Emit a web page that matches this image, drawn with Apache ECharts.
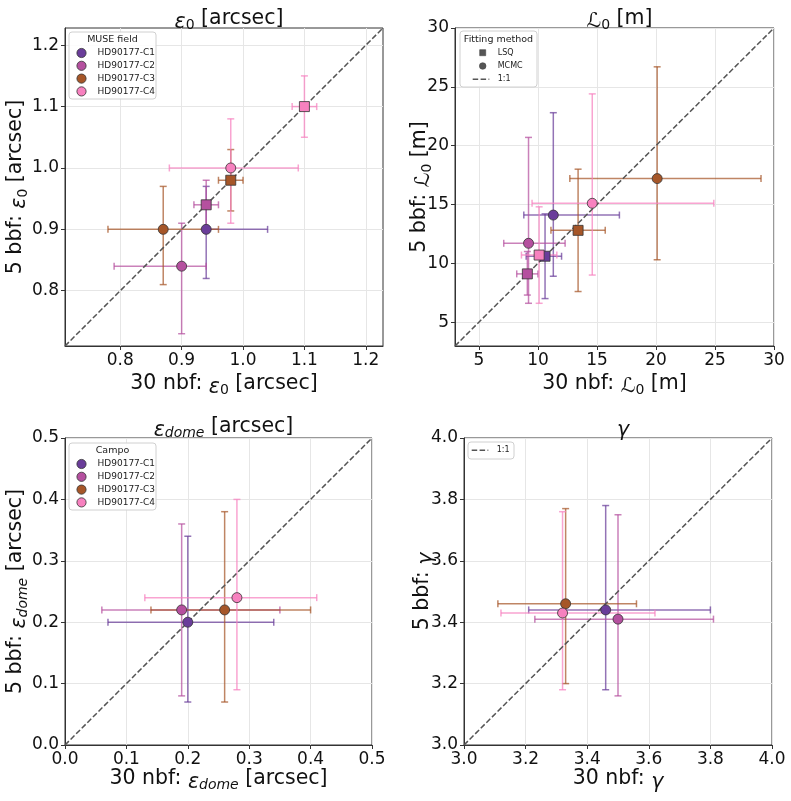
<!DOCTYPE html>
<html><head><meta charset="utf-8">
<script src="https://cdn.jsdelivr.net/npm/echarts@6/dist/echarts.min.js"></script>
<style>html,body{margin:0;padding:0;background:#fff}#c{width:791px;height:801px}</style>
</head><body><div id="c"></div>
<script>
// ---------- DATA ----------
const fields = ['HD90177-C1', 'HD90177-C2', 'HD90177-C3', 'HD90177-C4'];
const fieldColors = ['#6a3d9a', '#b5509f', '#a65628', '#f781bf'];
const methods = ['LSQ', 'MCMC'];
// rows per field: [x, xLow, xHigh, y, yLow, yHigh]  (null = not shown)
const eps0MCMC = [
  [0.94, 0.94, 1.04, 0.90, 0.82, 0.97],
  [0.90, 0.79, 0.94, 0.84, 0.73, 0.91],
  [0.87, 0.78, 0.96, 0.90, 0.81, 0.97],
  [0.98, 0.88, 1.09, 1.00, 0.91, 1.08]
];
const eps0LSQ = [
  null,
  [0.94, 0.92, 0.96, 0.94, 0.90, 0.98],
  [0.98, 0.96, 1.00, 0.98, 0.93, 1.03],
  [1.10, 1.08, 1.12, 1.10, 1.05, 1.15]
];
const L0MCMC = [
  [11.3, 8.8, 16.9, 14.1, 8.9, 22.8],
  [9.2, 7.1, 12.3, 11.7, 6.6, 20.7],
  [20.1, 12.7, 28.9, 17.2, 10.3, 26.7],
  [14.6, 9.5, 24.9, 15.1, 9.0, 24.4]
];
const L0LSQ = [
  [10.6, 9.0, 12.0, 10.6, 7.0, 14.2],
  [9.1, 8.2, 10.0, 9.1, 7.3, 11.0],
  [13.4, 11.1, 15.7, 12.8, 7.6, 18.0],
  [10.1, 8.6, 11.6, 10.7, 6.6, 14.8]
];
const domeMCMC = [
  [0.20, 0.07, 0.34, 0.20, 0.07, 0.34],
  [0.19, 0.06, 0.35, 0.22, 0.08, 0.36],
  [0.26, 0.14, 0.40, 0.22, 0.07, 0.38],
  [0.28, 0.13, 0.41, 0.24, 0.09, 0.40]
];
const gammaMCMC = [
  [3.46, 3.21, 3.80, 3.44, 3.18, 3.78],
  [3.50, 3.23, 3.81, 3.41, 3.16, 3.75],
  [3.33, 3.11, 3.56, 3.46, 3.20, 3.77],
  [3.32, 3.12, 3.62, 3.43, 3.18, 3.76]
];
// axis ranges and ticks
const eps0Range = [0.71, 1.228];
const eps0Ticks = [0.8, 0.9, 1.0, 1.1, 1.2];
const L0Range = [2.97, 30];
const L0Ticks = [5, 10, 15, 20, 25, 30];
const domeRange = [0, 0.5];
const domeTicks = [0, 0.1, 0.2, 0.3, 0.4, 0.5];
const gammaRange = [3, 4];
const gammaTicks = [3.0, 3.2, 3.4, 3.6, 3.8, 4.0];
// texts
const titles = ['{i|ε}{s|0} [arcsec]', '{n|ℒ}{s|0} [m]', '{i|ε}{si|dome} [arcsec]', '{i|γ}'];
const xNames = ['30 nbf: {i|ε}{s|0} [arcsec]', '30 nbf: {n|ℒ}{s|0} [m]', '30 nbf: {i|ε}{si|dome} [arcsec]', '30 nbf: {i|γ}'];
const yNames = ['5 bbf: {i|ε}{s|0} [arcsec]', '5 bbf: {n|ℒ}{s|0} [m]', '5 bbf: {i|ε}{si|dome} [arcsec]', '5 bbf: {i|γ}'];
const legendTitles = ['MUSE field', 'Fitting method', 'Campo'];
const diagName = '1:1';

// ---------- BUILD ----------
const FF = 'DejaVu Sans';
function rgba(hex, a) {
  const n = parseInt(hex.slice(1), 16);
  return 'rgba(' + (n >> 16 & 255) + ',' + (n >> 8 & 255) + ',' + (n & 255) + ',' + a + ')';
}
function rich(size) {
  const sub = Math.round(size * 0.7);
  return {
    i: {fontStyle: 'italic', fontSize: size, fontFamily: FF, lineHeight: size + 8, verticalAlign: 'bottom', color: '#111'},
    n: {fontSize: size, fontFamily: FF, lineHeight: size + 8, verticalAlign: 'bottom', color: '#111'},
    s: {fontSize: sub, fontFamily: FF, lineHeight: sub, verticalAlign: 'bottom', color: '#111'},
    si: {fontSize: sub, fontStyle: 'italic', fontFamily: FF, lineHeight: sub, verticalAlign: 'bottom', color: '#111'}
  };
}
const grids = [
  {left: 65, top: 28, width: 318, height: 318},
  {left: 455, top: 28, width: 319, height: 318},
  {left: 65, top: 438, width: 307, height: 307},
  {left: 464, top: 438, width: 308, height: 307}
];
const panels = [
  {range: eps0Range, ticks: eps0Ticks, dec: 1, sets: [[eps0MCMC, 'circle'], [eps0LSQ, 'rect']]},
  {range: L0Range, ticks: L0Ticks, dec: 0, sets: [[L0MCMC, 'circle'], [L0LSQ, 'rect']]},
  {range: domeRange, ticks: domeTicks, dec: 1, sets: [[domeMCMC, 'circle']]},
  {range: gammaRange, ticks: gammaTicks, dec: 1, sets: [[gammaMCMC, 'circle']]}
];
const LABEL = 20.5, TICK = 17;
const yGaps = [35, 21, 35, 27];
const xGaps = [23, 23, 19, 19];
function axis(p, isY) {
  const P = panels[p];
  return {
    type: 'value', gridIndex: p, min: P.range[0], max: P.range[1],
    name: isY ? yNames[p] : xNames[p], nameLocation: 'middle',
    nameGap: isY ? yGaps[p] : xGaps[p],
    nameRotate: isY ? 90 : 0,
    nameMoveOverlap: false,
    nameTextStyle: {fontSize: LABEL, fontFamily: FF, color: '#111', lineHeight: LABEL + 8, rich: rich(LABEL)},
    axisLine: {show: true, onZero: false, lineStyle: {color: '#333', width: 1}},
    axisTick: {show: true, customValues: P.ticks, length: 4, lineStyle: {color: '#333'}},
    axisLabel: {customValues: P.ticks, fontSize: TICK, fontFamily: FF, color: '#111', margin: 6,
      formatter: v => Number(v).toFixed(P.dec)},
    splitLine: {show: true, lineStyle: {color: '#e6e6e6', width: 1}}
  };
}
function barRender(params, api) {
  const x = api.value(0), y = api.value(1);
  const xl = api.value(2), xh = api.value(3), yl = api.value(4), yh = api.value(5);
  const col = rgba(fieldColors[api.value(6)], 0.72);
  const L = api.coord([xl, y]), R = api.coord([xh, y]), B = api.coord([x, yl]), T = api.coord([x, yh]);
  const c = 3.5;
  const st = {stroke: col, lineWidth: 1.5};
  const ln = (x1, y1, x2, y2) => ({type: 'line', shape: {x1, y1, x2, y2}, style: st});
  return {type: 'group', children: [
    ln(L[0], L[1], R[0], R[1]), ln(L[0], L[1] - c, L[0], L[1] + c), ln(R[0], R[1] - c, R[0], R[1] + c),
    ln(B[0], B[1], T[0], T[1]), ln(B[0] - c, B[1], B[0] + c, B[1]), ln(T[0] - c, T[1], T[0] + c, T[1])
  ]};
}
const series = [];
panels.forEach((P, p) => {
  const barData = [];
  fields.forEach((f, i) => {
    P.sets.forEach(([rows]) => {
      const r = rows[i];
      if (r) barData.push([r[0], r[3], r[1], r[2], r[4], r[5], i]);
    });
  });
  series.push({type: 'custom', xAxisIndex: p, yAxisIndex: p, data: barData, encode: {x: 0, y: 1},
    renderItem: barRender, silent: true, z: 2});
  series.push({type: 'line', xAxisIndex: p, yAxisIndex: p, data: [[P.range[0], P.range[0]], [P.range[1], P.range[1]]],
    symbol: 'none', silent: true, z: 3, lineStyle: {type: [5.5, 2.4], color: '#555', width: 1.5}});
  P.sets.forEach(([rows, sym]) => {
    series.push({type: 'scatter', xAxisIndex: p, yAxisIndex: p, symbol: sym, symbolSize: 10, silent: true, z: 4,
      data: rows.map((r, i) => r ? {value: [r[0], r[3]], itemStyle: {color: fieldColors[i]}} : null).filter(Boolean),
      itemStyle: {borderColor: '#333', borderWidth: 0.8, opacity: 1}});
  });
});
// legends drawn as graphics
const graphic = [];
function box(x, y, w, h) {
  graphic.push({type: 'rect', shape: {x, y, width: w, height: h, r: 3}, z: 50,
    style: {fill: 'rgba(255,255,255,0.85)', stroke: '#d0d0d0', lineWidth: 1}});
}
function txt(x, y, t, size, align) {
  graphic.push({type: 'text', x, y, z: 51, style: {text: t, fontSize: size, fontFamily: FF, fill: '#222',
    align: align || 'left', verticalAlign: 'middle'}});
}
function fieldLegend(x0, y0, title) {
  box(x0, y0, 87, 67);
  txt(x0 + 43.5, y0 + 7.8, title, 9.5, 'center');
  fields.forEach((f, i) => {
    const cy = y0 + 21 + i * 12.8;
    graphic.push({type: 'circle', z: 51, shape: {cx: x0 + 12.5, cy, r: 4.6},
      style: {fill: fieldColors[i], stroke: '#333', lineWidth: 0.8}});
    txt(x0 + 28.5, cy, f, 9);
  });
}
function dash(x1, y, x2) {
  graphic.push({type: 'line', z: 51, shape: {x1, y1: y, x2, y2: y},
    style: {stroke: '#555', lineWidth: 1.5, lineDash: [5.5, 2.4]}});
}
fieldLegend(69, 32, legendTitles[0]);
fieldLegend(69, 443, legendTitles[2]);
// method legend
box(460, 31, 77, 56);
txt(498.5, 39.3, legendTitles[1], 9.5, 'center');
graphic.push({type: 'rect', z: 51, shape: {x: 479.7, y: 49.7, width: 6, height: 6}, style: {fill: '#555', stroke: '#444', lineWidth: 0.6}});
txt(497.7, 52.7, methods[0], 8);
graphic.push({type: 'circle', z: 51, shape: {cx: 482.7, cy: 66, r: 3.3}, style: {fill: '#555', stroke: '#444', lineWidth: 0.6}});
txt(497.7, 66, methods[1], 8);
dash(472.7, 79.3, 489.3);
txt(497.7, 79.3, diagName, 8);
// gamma legend
box(468, 442, 46, 17);
dash(471.7, 450.3, 488.3);
txt(496.7, 450.3, diagName, 8);

const titleCfg = titles.map((t, p) => ({
  text: t, left: grids[p].left + grids[p].width / 2, top: p < 2 ? -1 : 407, textAlign: 'center',
  textStyle: {fontSize: LABEL, fontFamily: FF, fontWeight: 'normal', color: '#111', lineHeight: LABEL + 8, rich: rich(LABEL)}
}));

const chart = echarts.init(document.getElementById('c'), null, {renderer: 'canvas'});
chart.setOption({
  animation: false,
  backgroundColor: '#fff',
  title: titleCfg,
  grid: grids.map(g => Object.assign({show: true, borderColor: '#333', borderWidth: 1, backgroundColor: 'transparent'}, g)),
  xAxis: panels.map((P, p) => axis(p, false)),
  yAxis: panels.map((P, p) => axis(p, true)),
  series,
  graphic
});
</script></body></html>
